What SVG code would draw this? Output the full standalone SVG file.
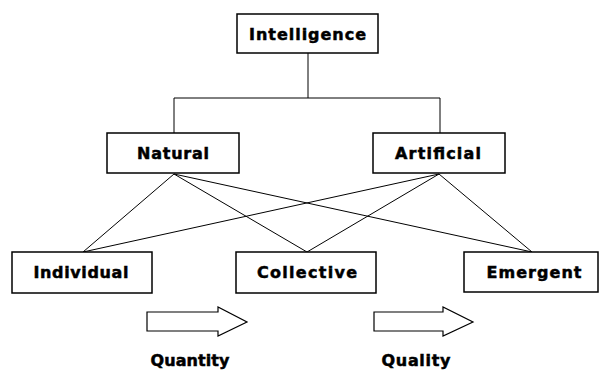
<svg xmlns="http://www.w3.org/2000/svg" width="600" height="372" viewBox="0 0 600 372">
<style>
.box{fill:#fff;stroke:#000;stroke-width:1.5}
.lbl{font-family:"DejaVu Sans","Liberation Sans",sans-serif;font-weight:bold;font-size:16px;fill:#000;stroke:#000;stroke-width:0.5;text-anchor:middle}
.ln{stroke:#000;stroke-width:1;fill:none}
.arr{fill:#fff;stroke:#000;stroke-width:1.2;stroke-linejoin:miter}
</style>
<rect width="600" height="372" fill="#fff"/>
<g id="connectors">
<polyline class="ln" points="308,53 308,98"/>
<polyline class="ln" points="174,133 174,98 440,98 440,133"/>
<line class="ln" x1="174" y1="174" x2="83" y2="252"/>
<line class="ln" x1="174" y1="174" x2="307" y2="252"/>
<line class="ln" x1="174" y1="174" x2="532" y2="252"/>
<line class="ln" x1="439" y1="174" x2="83" y2="252"/>
<line class="ln" x1="439" y1="174" x2="307" y2="252"/>
<line class="ln" x1="439" y1="174" x2="532" y2="252"/>
</g>
<g id="intelligence">
<rect class="box" x="237" y="14" width="141" height="39"/>
<text class="lbl" x="307.5" y="40" textLength="117" lengthAdjust="spacing">Intelligence</text>
</g>
<g id="natural">
<rect class="box" x="107" y="133" width="132" height="40"/>
<text class="lbl" x="173" y="159" textLength="72" lengthAdjust="spacing">Natural</text>
</g>
<g id="artificial">
<rect class="box" x="373" y="133" width="132" height="40"/>
<text class="lbl" x="438" y="159" textLength="86" lengthAdjust="spacing">Artificial</text>
</g>
<g id="individual">
<rect class="box" x="12" y="252" width="140" height="41"/>
<text class="lbl" x="81" y="278" textLength="95" lengthAdjust="spacing">Individual</text>
</g>
<g id="collective">
<rect class="box" x="236" y="252" width="140" height="41"/>
<text class="lbl" x="307" y="278" textLength="100" lengthAdjust="spacing">Collective</text>
</g>
<g id="emergent">
<rect class="box" x="464" y="252" width="134" height="40"/>
<text class="lbl" x="534" y="278" textLength="95" lengthAdjust="spacing">Emergent</text>
</g>
<g id="quantity">
<polygon class="arr" points="147,312 218,312 218,307 247,322 218,336 218,331 147,331"/>
<text class="lbl" x="190" y="366" textLength="79" lengthAdjust="spacing">Quantity</text>
</g>
<g id="quality">
<polygon class="arr" points="374,312 443,312 443,307 473,322 443,336 443,331 374,331"/>
<text class="lbl" x="416" y="366" textLength="69" lengthAdjust="spacing">Quality</text>
</g>
</svg>
